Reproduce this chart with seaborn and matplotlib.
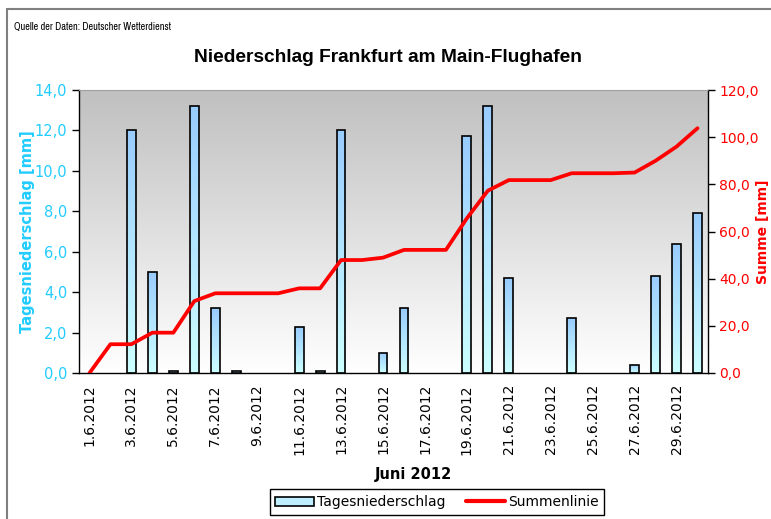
import numpy as np
import pandas as pd
import matplotlib
matplotlib.use("Agg")
import matplotlib.pyplot as plt
import seaborn as sns
from matplotlib import font_manager
from matplotlib.colors import LinearSegmentedColormap
from matplotlib.lines import Line2D
from matplotlib.patches import Patch

# Daten: Niederschlag Juni 2012, Frankfurt/Main-Flughafen
tage = [f"{d}.6.2012" for d in range(1, 31)]
tagesniederschlag = [0.0, 0.0, 12.0, 5.0, 0.1, 13.2, 3.2, 0.1, 0.0, 0.0,
                     2.3, 0.1, 12.0, 0.0, 1.0, 3.2, 0.0, 0.0, 11.7, 13.2,
                     4.7, 0.0, 0.0, 2.7, 0.0, 0.0, 0.4, 4.8, 6.4, 7.9]
summenlinie = [0.0, 12.2, 12.2, 17.1, 17.1, 30.5, 33.8, 33.8, 33.8, 33.8,
               35.9, 35.9, 47.9, 47.9, 48.9, 52.2, 52.2, 52.2, 65.6, 77.3,
               81.8, 81.8, 81.8, 84.7, 84.7, 84.7, 85.0, 90.0, 96.0, 103.8]
links_ticks = [0, 2, 4, 6, 8, 10, 12, 14]
rechts_ticks = [0, 20, 40, 60, 80, 100, 120]

df = pd.DataFrame({"tag": tage, "mm": tagesniederschlag, "summe": summenlinie})

sns.set_style("white")
plt.rcParams["font.family"] = ["DejaVu Sans"]
plt.rcParams.update({"text.color": "black", "axes.labelcolor": "black",
                     "xtick.color": "black", "ytick.color": "black"})

cyan = "#22CCFF"
rot = "#FF0000"

fig = plt.figure(figsize=(7.71, 5.19), dpi=100)
ax = fig.add_axes([79 / 771, 146 / 519, 629 / 771, 283 / 519])

# grauer Verlauf im Hintergrund
grau = LinearSegmentedColormap.from_list("grau", ["#FFFFFF", "#C0C0C0"])
ax.imshow(np.linspace(0, 1, 256).reshape(-1, 1), cmap=grau, origin="lower",
          extent=[0, 1, 0, 1], transform=ax.transAxes, aspect="auto", zorder=0)

sns.barplot(data=df, x="tag", y="mm", ax=ax, width=0.42, color="#99CCFF",
            edgecolor="black", linewidth=1.2, zorder=2)

# Verlauf in den Balken
blau = LinearSegmentedColormap.from_list("blau", ["#CCFFFF", "#99CCFF"])
for p in list(ax.patches):
    h = p.get_height()
    if h <= 0:
        p.set_visible(False)
        continue
    x0 = p.get_x()
    w = p.get_width()
    im = ax.imshow(np.linspace(0, 1, 64).reshape(-1, 1), cmap=blau, origin="lower",
                   extent=[x0, x0 + w, 0, h], aspect="auto", zorder=2.5)
    im.set_clip_path(p)
    p.set_facecolor("none")
    p.set_zorder(3)

ax.set_xlim(-0.5, 29.5)
ax.set_ylim(0, 14)
ax.set_yticks(links_ticks)
ax.set_yticklabels([f"{v:.1f}".replace(".", ",") for v in links_ticks],
                   color=cyan, fontsize=10.5)
ax.set_xticks(range(len(tage)))
ax.set_xticklabels([t if i % 2 == 0 else "" for i, t in enumerate(tage)],
                   rotation=90, fontsize=10)
ax.set_xticks(np.arange(-0.5, 30, 1), minor=True)
ax.tick_params(axis="x", which="major", length=0, pad=8)
ax.tick_params(axis="x", which="minor", direction="inout", length=9, width=1, color="black")
ax.tick_params(axis="y", direction="out", length=5, width=1, color="black", left=True)
ax.set_xlabel("")
ax.set_ylabel("Tagesniederschlag [mm]", color=cyan, fontsize=10.5,
              fontweight="bold", labelpad=0)
for s in ["left", "bottom", "right"]:
    ax.spines[s].set_color("black")
    ax.spines[s].set_linewidth(1)
ax.spines["top"].set_color("#A0A0A0")

ax2 = ax.twinx()
sns.lineplot(x=np.arange(len(tage)), y=summenlinie, ax=ax2, color=rot,
             linewidth=2.7, zorder=4)
ax2.set_ylim(0, 120)
ax2.set_xlim(-0.5, 29.5)
ax2.set_yticks(rechts_ticks)
ax2.set_yticklabels([f"{v:.1f}".replace(".", ",") for v in rechts_ticks],
                    color=rot, fontsize=10)
ax2.tick_params(axis="y", direction="out", length=5, width=1, color="black",
                right=True, pad=3)
ax2.set_ylabel("Summe [mm]", color=rot, fontsize=10, fontweight="bold")
ax2.yaxis.label.set_va("center")
ax2.yaxis.set_label_coords((763 - 79) / 629, 0.5)
for s in ax2.spines.values():
    s.set_visible(False)

# Titel und Texte
narrow = [f.name for f in font_manager.fontManager.ttflist if "Narrow" in f.name]
quelle_font = narrow[0] if narrow else "Liberation Sans"
fig.text(14 / 771, 1 - 27 / 519, "Quelle der Daten: Deutscher Wetterdienst",
         fontsize=7.4, family=quelle_font, va="center", ha="left")
fig.text(388 / 771, 1 - 57 / 519, "Niederschlag Frankfurt am Main-Flughafen",
         fontsize=13.8, fontweight="bold", family="Liberation Sans",
         ha="center", va="center")
fig.text(413 / 771, 1 - 475 / 519, "Juni 2012", fontsize=10.5, fontweight="bold",
         ha="center", va="center")

# Rahmen
fig.add_artist(Line2D([7 / 771, 7 / 771], [0, 1 - 9 / 519], color="#808080", lw=1.5))
fig.add_artist(Line2D([7 / 771, 1], [1 - 9 / 519, 1 - 9 / 519], color="#808080", lw=1.5))

handles = [Patch(facecolor="#BFEFFF", edgecolor="black", linewidth=1.2),
           Line2D([], [], color=rot, lw=3)]
leg = fig.legend(handles, ["Tagesniederschlag", "Summenlinie"], loc="center",
                 bbox_to_anchor=(437 / 771, 1 - 502 / 519), ncol=2, fontsize=10,
                 frameon=True, fancybox=False, framealpha=1, edgecolor="black",
                 handlelength=2.8, handleheight=0.6, columnspacing=1.5,
                 borderpad=0.4, handletextpad=0.2)
leg.get_frame().set_linewidth(1)

fig.savefig("out.png", dpi=100)
